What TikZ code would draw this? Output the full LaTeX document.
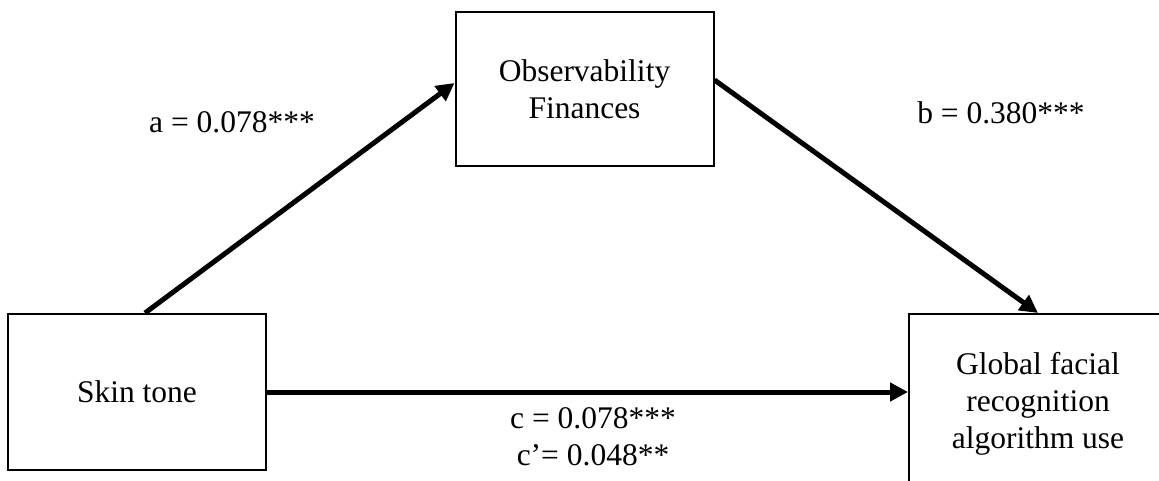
\documentclass[tikz,border=0pt]{standalone}
\usepackage{fontspec}
\setmainfont{Liberation Serif}
\usetikzlibrary{arrows.meta}
\begin{document}
\begin{tikzpicture}[
  x=1pt, y=1pt,
  every node/.style={font=\fontsize{31.5}{37}\selectfont, align=center},
  varbox/.style={rectangle, draw, line width=2pt, minimum width=258pt, inner sep=0pt},
  path/.style={draw, line width=5pt, -{Triangle[length=18pt,width=18pt]}}
]
\useasboundingbox (0,0) rectangle (1159,480);
\clip (0,0) rectangle (1159,480);
\node[varbox, minimum height=156pt] (skin) at (137,88) {Skin tone};
\node[varbox, minimum height=154pt] (obs) at (584.5,391) {Observability\\Finances};
\node[varbox, minimum height=180pt] (use) at (1038,76) {Global facial\\recognition\\algorithm use};
% paths
\draw[path] ([xshift=8pt]skin.north) -- ([yshift=6pt]obs.west);
\draw[path] ([yshift=9pt]obs.east) -- (use.north);
\draw[path] (skin.east) -- (skin.east -| use.west);
% coefficients
\node (acoef) at (232,358) {a = 0.078***};
\node (bcoef) at (1001,367) {b = 0.380***};
\node (ccoef) at (593,43) {c = 0.078***\\c’= 0.048**};
\end{tikzpicture}
\end{document}
